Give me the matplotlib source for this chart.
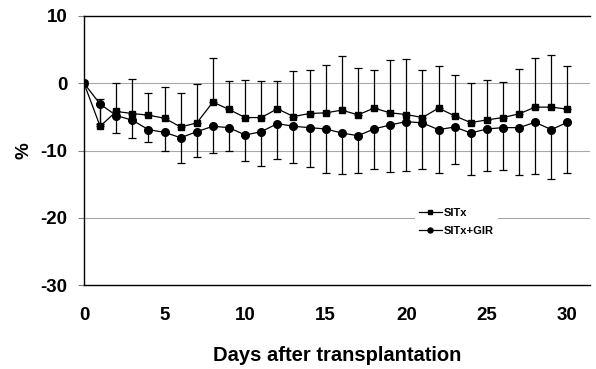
import matplotlib
matplotlib.use("Agg")
import matplotlib.pyplot as plt

# data ###############################################################################################################
days = list(range(31))

sitx = [0, -6.4, -4.2, -4.5, -4.75, -5.2, -6.5, -5.9, -2.8, -3.9, -5.1, -5.1, -3.8, -4.95, -4.5, -4.4,
        -4.0, -4.7, -3.7, -4.4, -4.65, -5.1, -3.7, -4.85, -5.85, -5.45, -5.1, -4.55, -3.55, -3.55, -3.85]
sitx_sd = [0, 4.0, 4.2, 5.2, 3.35, 4.6, 5.0, 5.8, 6.5, 4.2, 5.6, 5.5, 4.2, 6.75, 6.4, 7.1,
           8.1, 7.0, 5.7, 7.9, 8.25, 7.0, 6.3, 6.15, 5.85, 5.95, 5.35, 6.65, 7.35, 7.75, 6.35]

gir = [0, -3.1, -4.8, -5.5, -6.9, -7.3, -8.1, -7.2, -6.4, -6.6, -7.7, -7.2, -6.0, -6.4, -6.6, -6.8,
       -7.4, -7.8, -6.8, -6.2, -5.7, -5.9, -6.9, -6.5, -7.4, -6.8, -6.6, -6.6, -5.8, -6.9, -5.8]
gir_sd = [0, 3.0, 2.6, 2.6, 1.9, 2.7, 3.7, 3.8, 3.9, 3.5, 3.9, 5.1, 5.2, 5.5, 5.9, 6.6,
          6.1, 5.5, 6.0, 7.0, 7.4, 6.8, 6.5, 5.5, 6.2, 6.2, 6.3, 7.0, 7.7, 7.3, 7.6]

yticks = [10, 0, -10, -20, -30]
xticks = [0, 5, 10, 15, 20, 25, 30]

# plot ###############################################################################################################
plt.rcParams['font.family'] = ['Liberation Sans', 'DejaVu Sans']
plt.rcParams['axes.unicode_minus'] = False

fig = plt.figure(figsize=(5.96, 3.69), dpi=100)
ax = fig.add_axes([84/596, 1-285/369, 506/596, 269/369])

for y in [0, -10, -20]:
    ax.axhline(y, color='#a8a8a8', lw=0.8, zorder=0)

zeros = [0]*len(days)
ax.errorbar(days, sitx, yerr=[zeros, sitx_sd], fmt='none', ecolor='black', elinewidth=0.9, capsize=3, capthick=0.9)
ax.errorbar(days, gir, yerr=[gir_sd, zeros], fmt='none', ecolor='black', elinewidth=0.9, capsize=3, capthick=0.9)

ax.plot(days, sitx, '-s', color='black', lw=0.9, markersize=5, label='SITx')
ax.plot(days, gir, '-o', color='black', lw=0.9, markersize=5.5, label='SITx+GIR')

ax.set_xlim(0, 31.4)
ax.set_ylim(-30, 10)
ax.set_yticks(yticks)
ax.set_xticks(xticks)

ax.spines['right'].set_visible(False)
for s in ['left', 'top', 'bottom']:
    ax.spines[s].set_linewidth(1.0)

ax.tick_params(axis='y', length=4, width=0.8, color='#808080', pad=8, labelsize=13.5)
ax.tick_params(axis='x', length=0, pad=16, labelsize=13.5)
for lab in ax.get_xticklabels() + ax.get_yticklabels():
    lab.set_fontweight('bold')

ax.set_xlabel('Days after transplantation', fontsize=14.5, fontweight='bold', labelpad=16)
ax.set_ylabel('%', fontsize=13.5, fontweight='bold', labelpad=6)

leg = ax.legend(loc='upper left', bbox_to_anchor=(0.643, 0.325), frameon=True, fancybox=False,
                edgecolor='none', facecolor='white', framealpha=1, markerscale=0.65,
                handlelength=2.0, handletextpad=0.2, labelspacing=0.75, borderpad=0.4,
                prop={'size': 8, 'weight': 'bold'})

fig.savefig('out.png', dpi=100)
